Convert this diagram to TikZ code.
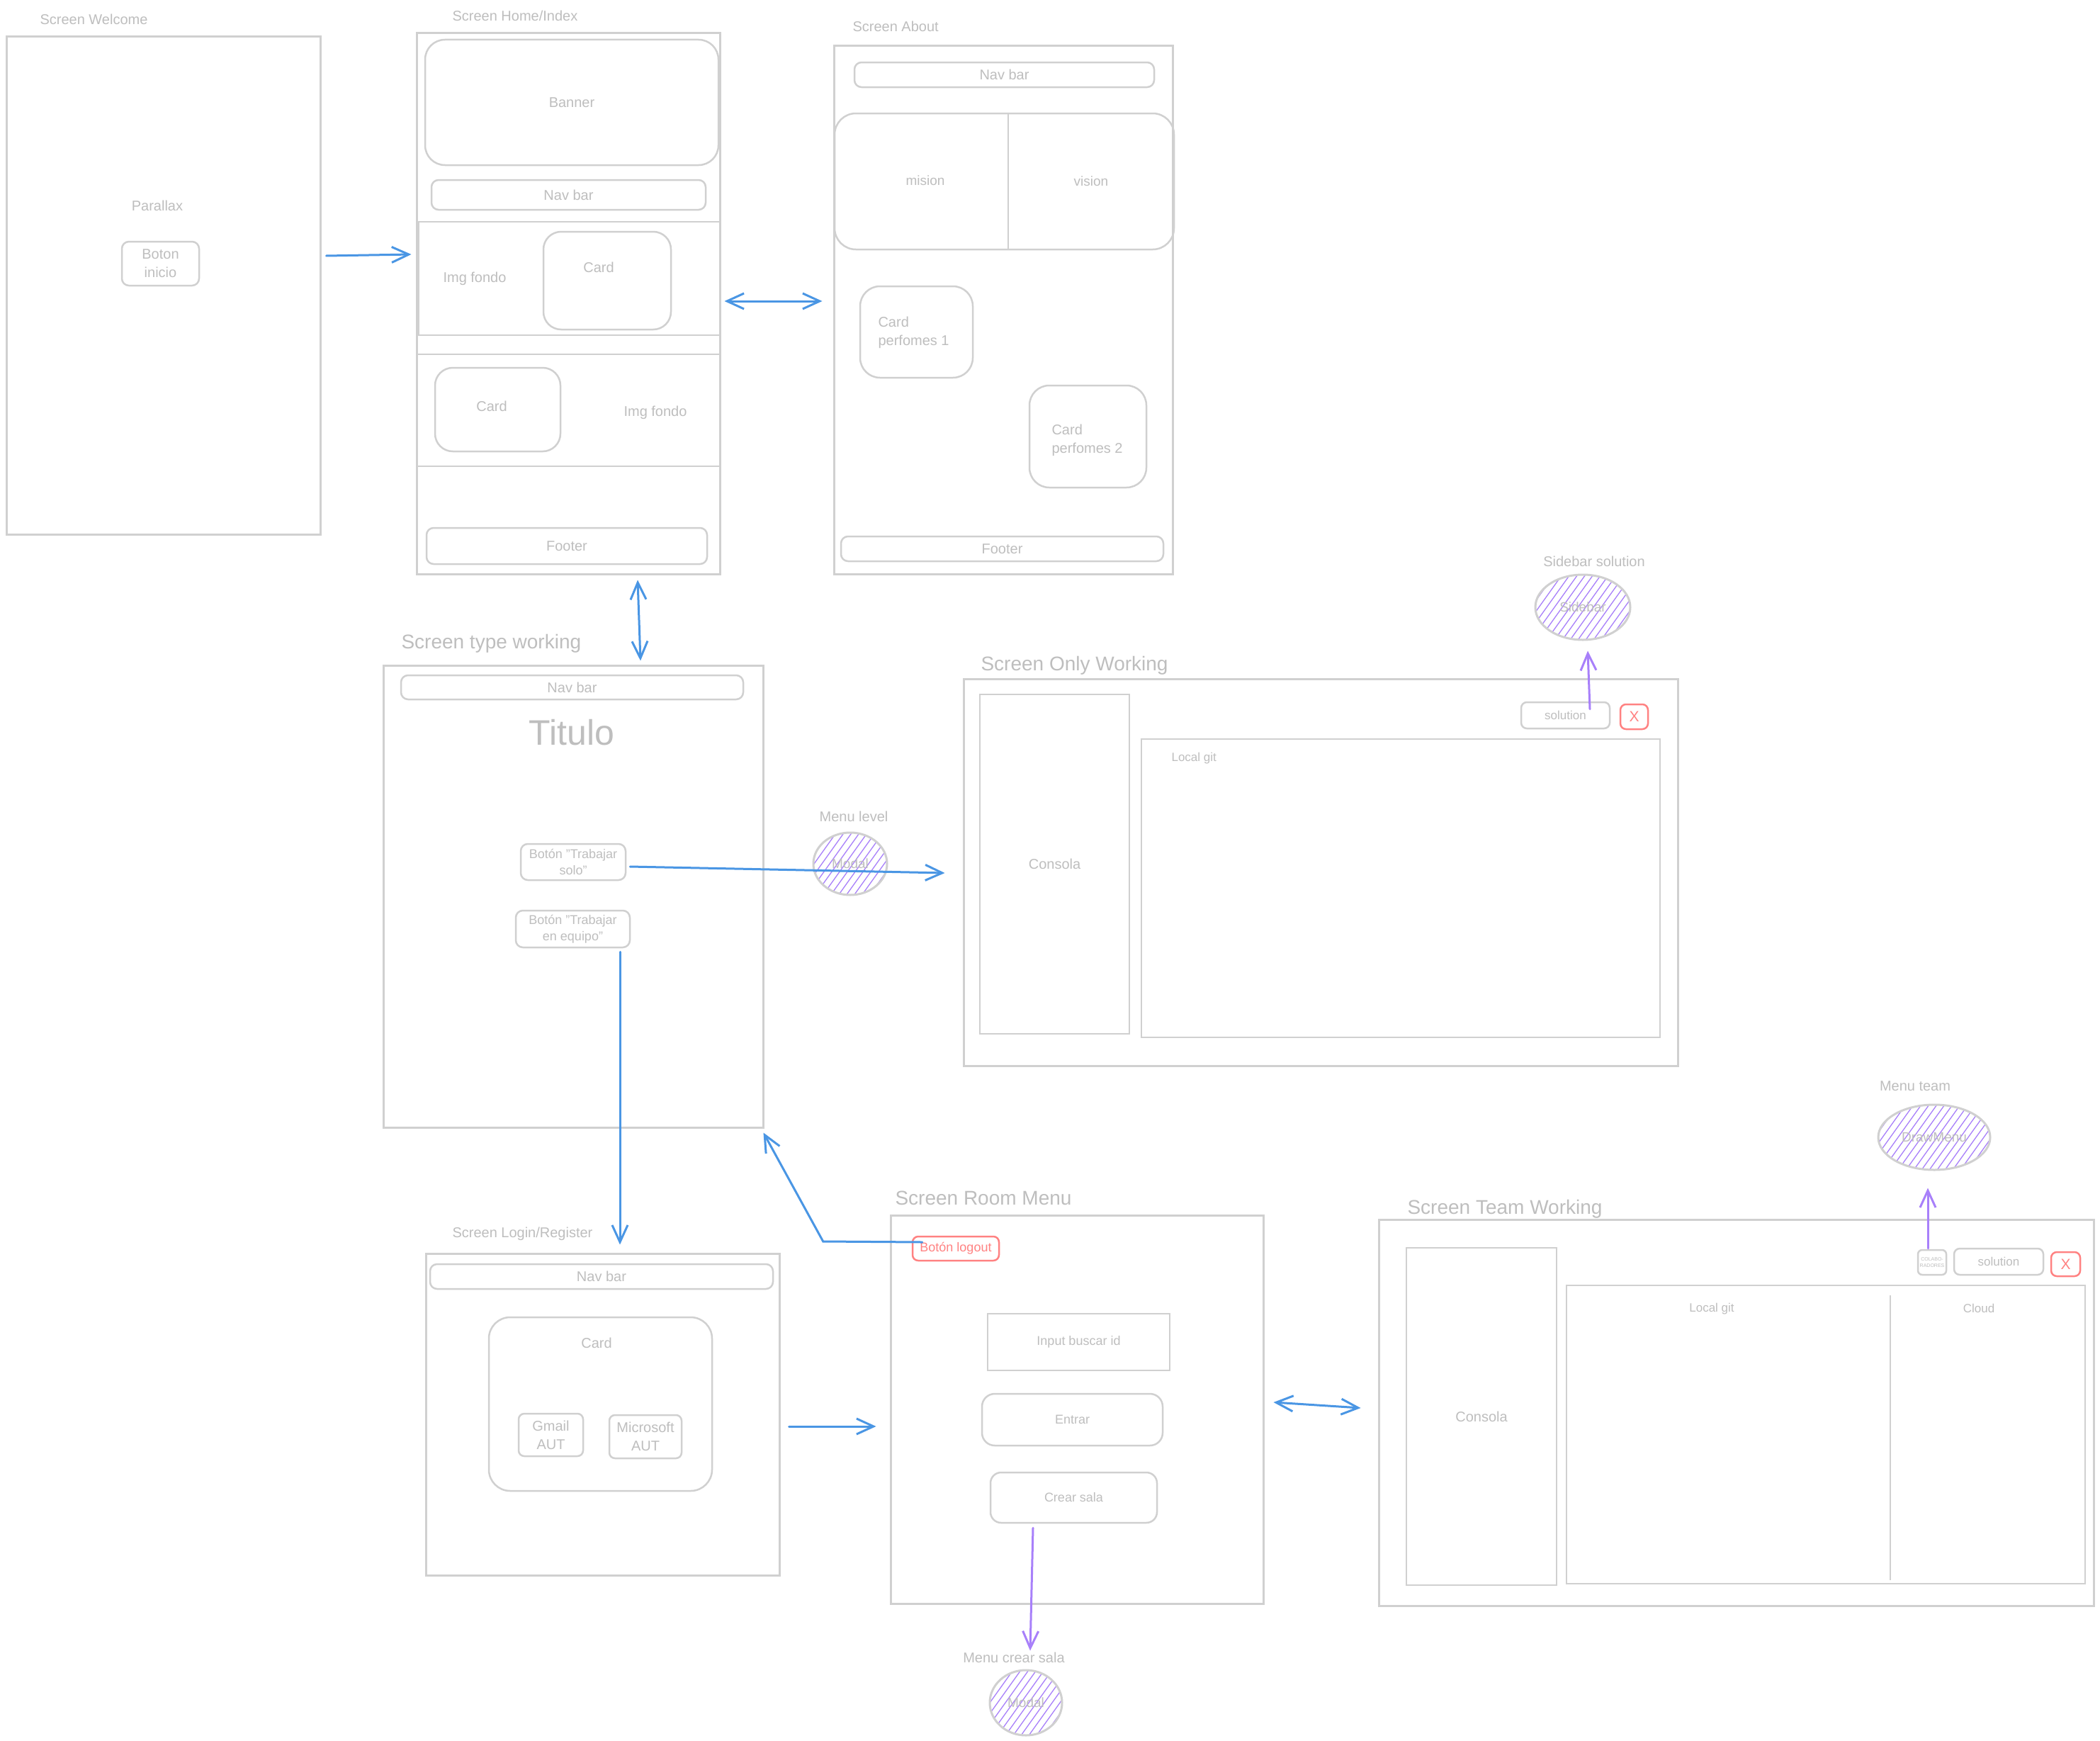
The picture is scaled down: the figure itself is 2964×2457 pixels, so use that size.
\documentclass[tikz,border=0pt]{standalone}
\usepackage{fontspec}
\setmainfont{Liberation Sans}
\usetikzlibrary{arrows.meta,calc,shapes.geometric}

\definecolor{ink}{RGB}{208,208,208}
\definecolor{txt}{RGB}{190,190,190}
\definecolor{flowblue}{RGB}{74,150,228}
\definecolor{violet}{RGB}{168,128,250}
\definecolor{alert}{RGB}{255,130,130}

\newcommand\sz[1]{\fontsize{#1}{\fpeval{1.3*#1}}\selectfont}

\tikzset{
  every node/.append style={text=txt, font=\sz{20}},
  % a box given by its two corners (x1,y1) (x2,y2)
  box/.style n args={4}{minimum width=#3-#1, minimum height=#4-#2,
      at={({(#1+#3)/2},{(#2+#4)/2})}, inner sep=0pt, align=center},
  screen/.style={draw=ink, line width=3pt},
  comp/.style={draw=ink, line width=2.5pt, rounded corners=#1},
  comp/.default=10pt,
  flatbox/.style={draw=ink, line width=2pt},
  redbtn/.style={draw=alert, line width=2.5pt, rounded corners=8pt, text=alert},
  hatched/.style={path picture={
      \foreach \k in {-150,-139,...,150}
        \draw[violet, line width=1.3pt] ($(path picture bounding box.center)+(\k-50,70)$) -- ++(100,-140);}},
  oval/.style={ellipse, draw=ink, line width=3pt, inner sep=0pt, hatched},
  lbl/.style={anchor=west, font=\sz{20}},
  biglbl/.style={anchor=west, font=\sz{28}},
  bluearrow/.style={draw=flowblue, line width=3pt, line cap=round, -{Straight Barb[length=24pt, width=22pt]}},
  bluetwo/.style={draw=flowblue, line width=3pt, line cap=round,
      {Straight Barb[length=24pt, width=22pt]}-{Straight Barb[length=24pt, width=22pt]}},
  violetarrow/.style={draw=violet, line width=3pt, line cap=round, -{Straight Barb[length=24pt, width=22pt]}},
}

\begin{document}
\begin{tikzpicture}[x=1pt, y=-1pt]
\fill[white] (0,0) rectangle (2964,2457);
\useasboundingbox (0,0) rectangle (2964,2457);

% ---------------- Welcome screen ----------------
\node[lbl] (tWelcome) at (53,27) {Screen Welcome};
\node[screen, box={9}{52}{452}{754}] (welcome) {};
\node (parallax) at (222,290) {Parallax};
\node[comp, box={172}{341}{281}{403}] (boton) {Boton\\ inicio};

% ---------------- Home / Index ----------------
\node[lbl] (tHome) at (635,22) {Screen Home/Index};
\node[screen, box={588}{47}{1016}{810}] (home) {};
\node[comp=28pt, box={600}{56}{1014}{233}] (banner) {Banner};
\node[comp, box={609}{254}{996}{296}] (nav1) {Nav bar};
\node[screen, line width=2.5pt, box={591}{313}{1016}{473}] (sec1) {};
\node (img1) at (670,393) {Img fondo};
\node[comp=25pt, box={767}{327}{947}{465}] (card1) {};
\node (card1t) at (845,377) {Card};
\node[screen, line width=2.5pt, box={589}{500}{1016}{658}] (sec2) {};
\node[comp=25pt, box={614}{519}{791}{637}] (card2) {};
\node (card2t) at (694,573) {Card};
\node (img2) at (925,582) {Img fondo};
\node[comp, box={602}{745}{998}{796}] (foot1) {Footer};

% ---------------- About ----------------
\node[lbl] (tAbout) at (1200,37) {Screen About};
\node[screen, box={1177}{65}{1655}{810}] (about) {};
\node[comp, box={1206}{88}{1629}{123}] (nav2) {Nav bar};
\node[comp=30pt, box={1178}{160}{1657}{352}] (mv) {};
\draw[ink, line width=2.5pt] (1423,160) -- (1423,352);
\node[font=\sz{19}] (mision) at (1306,255) {mision};
\node[font=\sz{19}] (vision) at (1540,256) {vision};
\node[comp=28pt, box={1214}{404}{1373}{533}] (perf1) {};
\node[anchor=west, align=left] (perf1t) at (1236,469) {Card\\perfomes 1};
\node[comp=28pt, box={1453}{544}{1618}{688}] (perf2) {};
\node[anchor=west, align=left] (perf2t) at (1481,621) {Card\\perfomes 2};
\node[comp, box={1187}{757}{1642}{792}] (foot2) {Footer};

% ---------------- Type working ----------------
\node[biglbl] (tType) at (563,908) {Screen type working};
\node[screen, box={541}{939}{1077}{1591}] (type) {};
\node[comp, box={566}{953}{1049}{987}] (nav3) {Nav bar};
\node[font=\sz{50}] (titulo) at (807,1034) {Titulo};
\node[comp, font=\sz{18}, box={735}{1191}{883}{1242}] (solo) {Botón "Trabajar\\solo"};
\node[comp, font=\sz{18}, box={728}{1285}{889}{1337}] (equipo) {Botón "Trabajar\\en equipo"};
\node (tLevel) at (1205,1152) {Menu level};
\node[oval, minimum width=104pt, minimum height=88pt, font=\sz{19}] (level) at (1200,1219) {Modal};

% ---------------- Only working ----------------
\node[biglbl] (tOnly) at (1381,939) {Screen Only Working};
\node[screen, box={1360}{958}{2368}{1504}] (only) {};
\node[screen, line width=2.5pt, box={1383}{980}{1594}{1459}] (cons1) {Consola};
\node[flatbox, box={1611}{1043}{2343}{1464}] (git1) {};
\node[anchor=west, font=\sz{17}] (git1t) at (1650,1070) {Local git};
\node[comp=8pt, font=\sz{17}, box={2147}{991}{2272}{1028}] (sol1) {solution};
\node[redbtn, font=\sz{21}, box={2287}{994}{2326}{1029}] (x1) {X};
\node (tSide) at (2250,792) {Sidebar solution};
\node[oval, minimum width=134pt, minimum height=92pt, font=\sz{19}] (sidebar) at (2234,857) {Sidebar};

% ---------------- Login / Register ----------------
\node[lbl] (tLogin) at (635,1741) {Screen Login/Register};
\node[screen, box={601}{1769}{1100}{2223}] (login) {};
\node[comp, box={607}{1784}{1091}{1819}] (nav4) {Nav bar};
\node[comp=30pt, box={690}{1859}{1005}{2104}] (card3) {};
\node (card3t) at (842,1895) {Card};
\node[comp=8pt, box={732}{1995}{823}{2055}] (gmail) {Gmail\\AUT};
\node[comp=8pt, box={860}{1997}{962}{2058}] (msft) {Microsoft\\AUT};

% ---------------- Room menu ----------------
\node[biglbl] (tRoom) at (1260,1691) {Screen Room Menu};
\node[screen, box={1257}{1715}{1783}{2263}] (room) {};
\node[redbtn, font=\sz{18}, box={1288}{1745}{1410}{1779}] (logout) {Botón logout};
\node[screen, line width=2.5pt, font=\sz{18}, box={1394}{1854}{1651}{1934}] (input) {Input buscar id};
\node[comp=18pt, font=\sz{18}, box={1386}{1967}{1641}{2040}] (entrar) {Entrar};
\node[comp=15pt, font=\sz{18}, box={1398}{2078}{1633}{2149}] (crear) {Crear sala};
\node (tCrear) at (1431,2339) {Menu crear sala};
\node[oval, minimum width=102pt, minimum height=92pt, font=\sz{19}] (modal) at (1448,2403) {Modal};

% ---------------- Team working ----------------
\node[biglbl] (tTeam) at (1983,1706) {Screen Team Working};
\node[screen, box={1946}{1721}{2955}{2266}] (team) {};
\node[screen, line width=2.5pt, box={1985}{1761}{2197}{2237}] (cons2) {Consola};
\node[flatbox, box={2211}{1814}{2943}{2235}] (git2) {};
\draw[ink, line width=2.5pt] (2668,1828) -- (2668,2230);
\node[font=\sz{17}] (git2t) at (2416,1847) {Local git};
\node[font=\sz{17}] (cloud) at (2793,1846) {Cloud};
\node[comp=6pt, font=\sz{7}, box={2707}{1764}{2747}{1799}] (colab) {COLABO-\\RADORES};
\node[comp=8pt, font=\sz{17}, box={2758}{1762}{2884}{1799}] (sol2) {solution};
\node[redbtn, font=\sz{21}, box={2895}{1767}{2936}{1801}] (x2) {X};
\node (tMenuTeam) at (2703,1533) {Menu team};
\node[oval, minimum width=158pt, minimum height=92pt, font=\sz{19}] (drawmenu) at (2730,1605) {DrawMenu};

% ---------------- Connectors ----------------
\draw[bluearrow] ($(welcome.east)+(7,-42)$) -- ($(home.west)+(-6,-69.5)$);
\draw[bluetwo] ($(home.east)+(5,-3.5)$) -- ($(about.west)+(-15,-12.5)$);
\draw[bluetwo] ($(home.south)+(98,7)$) -- ($(type.north)+(95,-5)$);
\draw[bluearrow] ($(solo.east)+(5,6.5)$) -- ($(only.west)+(-25,1)$);
\draw[bluearrow] ($(equipo.south)+(66.5,5)$) -- ($(login.north)+(24.5,-11)$);
\draw[bluearrow] ($(login.east)+(12,17)$) -- ($(room.west)+(-19,24)$);
\draw[bluearrow] ($(logout.west)+(15,-9)$) -- ($(logout.west)+(-125,-10)$) -- ($(type.south east)+(-1,6)$);
\draw[bluetwo] ($(room.east)+(13,-10)$) -- ($(team.west)+(-24,-6.5)$);
\draw[violetarrow] ($(sol1.north)+(34.5,11)$) -- ($(sidebar.south)+(7,14)$);
\draw[violetarrow] ($(crear.south)+(-57.5,6)$) -- ($(modal.north)+(6,-26)$);
\draw[violetarrow] ($(colab.north)+(-6,-1)$) -- ($(drawmenu.south)+(-9,24)$);
\end{tikzpicture}
\end{document}
